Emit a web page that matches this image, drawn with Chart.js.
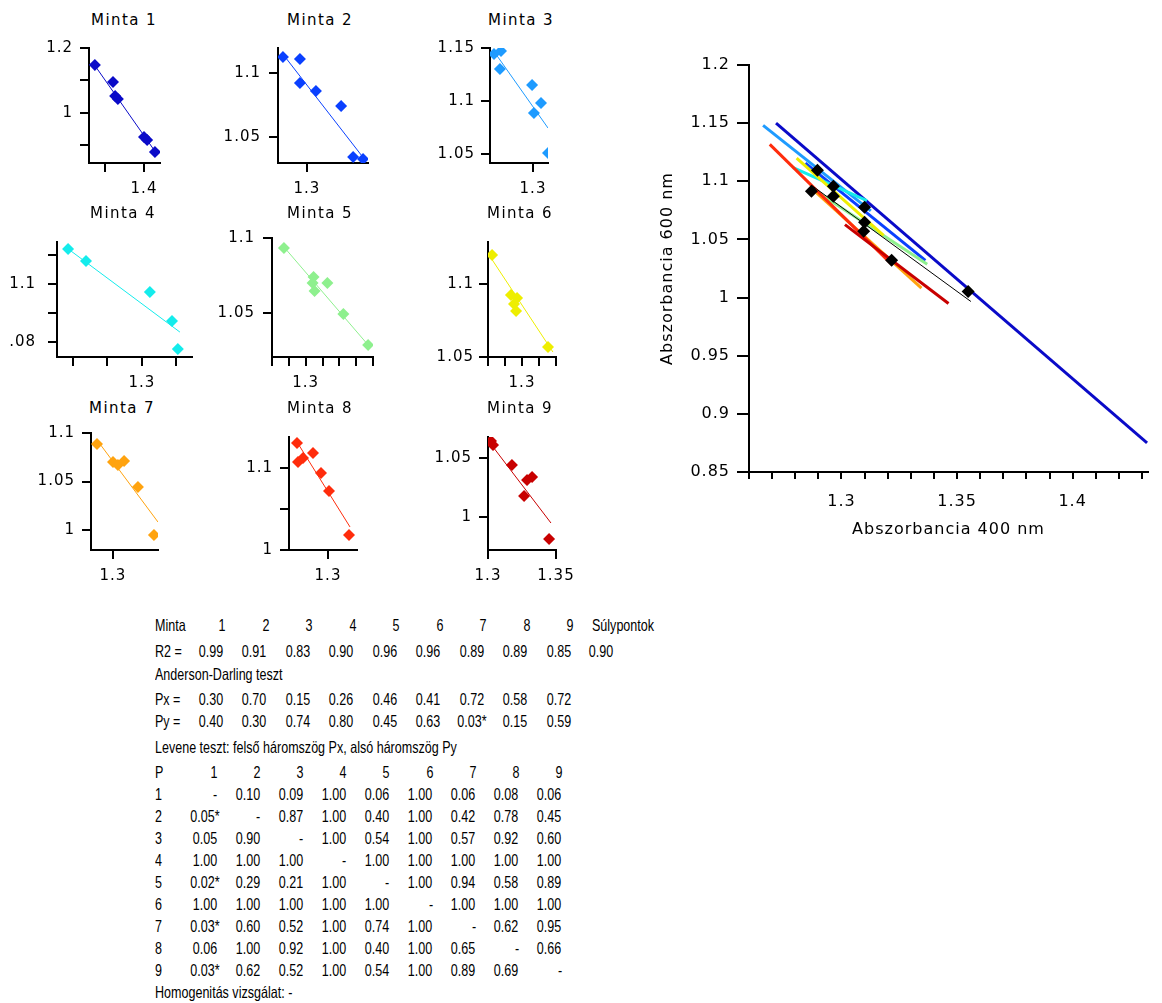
<!DOCTYPE html>
<html lang="hu">
<head>
<meta charset="UTF-8">
<title>Abszorbancia mintánként</title>
<script src="https://cdn.jsdelivr.net/npm/chart.js"></script>
<style>
  body { margin: 0; width: 1162px; height: 1003px; position: relative; overflow: hidden; background: #fff; }
  canvas { position: absolute; }
  .cim { position: absolute; font-family: 'DejaVu Sans', sans-serif; font-size: 15px; letter-spacing: 1.4px; line-height: 18px; white-space: nowrap; transform: translateX(-50%); color: #000; }
  .t { position: absolute; font-family: 'Liberation Sans', Arial, sans-serif; font-size: 16.5px; line-height: 16px; white-space: nowrap; color: #000; transform-origin: left center; }
</style>
</head>
<body>
<script>
// ---- adatok ----
const mintaNevek = ['Minta 1', 'Minta 2', 'Minta 3', 'Minta 4', 'Minta 5', 'Minta 6', 'Minta 7', 'Minta 8', 'Minta 9'];

const mintaX = [
  [1.274, 1.3205, 1.326, 1.333, 1.400, 1.408, 1.428],
  [1.285, 1.2956, 1.2956, 1.3056, 1.3213, 1.3288, 1.335],
  [1.267, 1.2729, 1.272, 1.2992, 1.3068, 1.3008, 1.3127],
  [1.2786, 1.2838, 1.3023, 1.3087, 1.3104],
  [1.2871, 1.3047, 1.3041, 1.3053, 1.3129, 1.3224, 1.3371],
  [1.2824, 1.2935, 1.2971, 1.2953, 1.2965, 1.3153],
  [1.2877, 1.300, 1.3038, 1.3085, 1.3192, 1.3315],
  [1.269, 1.270, 1.275, 1.285, 1.293, 1.301, 1.321],
  [1.3022, 1.3037, 1.3176, 1.3287, 1.3324, 1.3265, 1.3449]
];
const mintaY = [
  [1.148, 1.095, 1.052, 1.043, 0.926, 0.917, 0.880],
  [1.1125, 1.1109, 1.0922, 1.0859, 1.0742, 1.0344, 1.0328],
  [1.1443, 1.1472, 1.1302, 1.1151, 1.0981, 1.0887, 1.0509],
  [1.1121, 1.1079, 1.0972, 1.0872, 1.0776],
  [1.0933, 1.074, 1.070, 1.0647, 1.070, 1.0493, 1.0287],
  [1.1199, 1.0925, 1.0904, 1.0863, 1.0815, 1.0568],
  [1.0887, 1.0701, 1.067, 1.0711, 1.0443, 0.9948],
  [1.1305, 1.1073, 1.1122, 1.1183, 1.0939, 1.072, 1.0183],
  [1.0644, 1.061, 1.0441, 1.0314, 1.0339, 1.0178, 0.9814]
];

// illesztett egyenesek végpontjai
const illX = [[1.2717, 1.4322], [1.2844, 1.3363], [1.2661, 1.3127], [1.2791, 1.3110], [1.2871, 1.3371],
              [1.2806, 1.3182], [1.2877, 1.3346], [1.269, 1.322], [1.3015, 1.3463]];
const illY = [[1.150, 0.875], [1.1156, 1.032], [1.1481, 1.0745], [1.1117, 1.0834], [1.094, 1.0287],
              [1.1199, 1.0534], [1.0928, 1.0082], [1.1317, 1.0281], [1.0627, 0.9949]];

// súlypontok és a rajtuk átmenő egyenes
const sulyX = [1.3548, 1.310, 1.2896, 1.2965, 1.310, 1.2965, 1.3096, 1.287, 1.3217];
const sulyY = [1.0052, 1.0777, 1.1094, 1.0957, 1.0648, 1.0871, 1.0571, 1.0914, 1.032];
const sulyIllX = [1.287, 1.356];
const sulyIllY = [1.0966, 0.9966];

// osztások, feliratok
const xOsztas = [[1.3, 1.4], [1.3], [1.3], [1.28, 1.29, 1.3, 1.31], [1.28, 1.29, 1.3, 1.31, 1.32, 1.33, 1.34],
                 [1.28, 1.29, 1.3, 1.31, 1.32], [1.3], [1.3], [1.3, 1.35]];
const xFeliratok = [['1.4'], ['1.3'], ['1.3'], ['1.3'], ['1.3'], ['1.3'], ['1.3'], ['1.3'], ['1.3', '1.35']];
const yOsztas = [[0.9, 1, 1.1, 1.2], [1.05, 1.1], [1.05, 1.1, 1.15], [1.08, 1.09, 1.1, 1.11], [1.05, 1.1],
                 [1.05, 1.1], [1, 1.05, 1.1], [1, 1.05, 1.1], [1, 1.05]];
const yFeliratok = [['1', '1.2'], ['1.05', '1.1'], ['1.05', '1.1', '1.15'], ['1.08', '1.1'], ['1.05', '1.1'],
                    ['1.05', '1.1'], ['1', '1.05', '1.1'], ['1', '1.1'], ['1', '1.05']];

const nagyXOsztas = [1.26, 1.27, 1.28, 1.29, 1.3, 1.31, 1.32, 1.33, 1.34, 1.35, 1.36, 1.37, 1.38, 1.39, 1.4, 1.41, 1.42, 1.43];
const nagyXFeliratok = ['1.3', '1.35', '1.4'];
const nagyYOsztas = [0.85, 0.9, 0.95, 1, 1.05, 1.1, 1.15, 1.2];
const nagyYFeliratok = ['0.85', '0.9', '0.95', '1', '1.05', '1.1', '1.15', '1.2'];

// táblázat
const fejlec = ['1', '2', '3', '4', '5', '6', '7', '8', '9'];
const r2Ertekek = ['0.99', '0.91', '0.83', '0.90', '0.96', '0.96', '0.89', '0.89', '0.85', '0.90'];
const pxErtekek = ['0.30', '0.70', '0.15', '0.26', '0.46', '0.41', '0.72', '0.58', '0.72'];
const pyErtekek = ['0.40', '0.30', '0.74', '0.80', '0.45', '0.63', '0.03*', '0.15', '0.59'];
const levene = [
  ['-', '0.10', '0.09', '1.00', '0.06', '1.00', '0.06', '0.08', '0.06'],
  ['0.05*', '-', '0.87', '1.00', '0.40', '1.00', '0.42', '0.78', '0.45'],
  ['0.05', '0.90', '-', '1.00', '0.54', '1.00', '0.57', '0.92', '0.60'],
  ['1.00', '1.00', '1.00', '-', '1.00', '1.00', '1.00', '1.00', '1.00'],
  ['0.02*', '0.29', '0.21', '1.00', '-', '1.00', '0.94', '0.58', '0.89'],
  ['1.00', '1.00', '1.00', '1.00', '1.00', '-', '1.00', '1.00', '1.00'],
  ['0.03*', '0.60', '0.52', '1.00', '0.74', '1.00', '-', '0.62', '0.95'],
  ['0.06', '1.00', '0.92', '1.00', '0.40', '1.00', '0.65', '-', '0.66'],
  ['0.03*', '0.62', '0.52', '1.00', '0.54', '1.00', '0.89', '0.69', '-']
];

// ---- megjelenés ----
const szinek = ['#0a0ac8', '#0a40ff', '#1e9bff', '#14ecec', '#8ef08e', '#eeee00', '#ffa30f', '#ff2c0c', '#c80000'];

// kis grafikonok rajzterülete a lapon (px) és tengelyhatárai
const panelek = [
  { l: 89,  t: 48,  r: 160, b: 163, xMin: 1.259,  xMax: 1.441,  yMin: 0.846,  yMax: 1.2,    cx: 124, cy: 20,  yPad: 7 },
  { l: 278, t: 48,  r: 368, b: 163, xMin: 1.2819, xMax: 1.3381, yMin: 1.0297, yMax: 1.1195, cx: 320, cy: 20,  yPad: 8 },
  { l: 490, t: 48,  r: 548, b: 163, xMin: 1.2636, xMax: 1.3127, yMin: 1.0415, yMax: 1.15,   cx: 521, cy: 20,  yPad: 6 },
  { l: 57,  t: 242, r: 192, b: 357, xMin: 1.2754, xMax: 1.3145, yMin: 1.0748, yMax: 1.1145, cx: 123, cy: 213, yPad: 12, yw: 50 },
  { l: 272, t: 238, r: 373, b: 357, xMin: 1.28,   xMax: 1.34,   yMin: 1.0207, yMax: 1.1,    cx: 320, cy: 213, yPad: 8 },
  { l: 488, t: 242, r: 556, b: 357, xMin: 1.28,   xMax: 1.32,   yMin: 1.05,   yMax: 1.1288, cx: 520, cy: 213, yPad: 5 },
  { l: 91,  t: 433, r: 158, b: 550, xMin: 1.2831, xMax: 1.3346, yMin: 0.9794, yMax: 1.1,    cx: 122, cy: 408, yPad: 7 },
  { l: 289, t: 437, r: 357, b: 550, xMin: 1.261,  xMax: 1.329,  yMin: 1.0,    yMax: 1.1378, cx: 320, cy: 408, yPad: 7 },
  { l: 488, t: 437, r: 556, b: 550, xMin: 1.3,    xMax: 1.35,   yMin: 0.972,  yMax: 1.0678, cx: 520, cy: 408, yPad: 7 }
];

Chart.defaults.font.family = "'DejaVu Sans', sans-serif";
Chart.defaults.font.size = 15;
Chart.defaults.color = '#000';

// betűköz a vásznon
const betukoz = {
  id: 'betukoz',
  beforeUpdate(chart) { chart.ctx.letterSpacing = '1px'; },
  beforeDraw(chart) { chart.ctx.letterSpacing = '1px'; }
};

function vaszon(left, top, w, h) {
  const c = document.createElement('canvas');
  c.width = w; c.height = h;
  c.style.left = left + 'px'; c.style.top = top + 'px';
  c.style.width = w + 'px'; c.style.height = h + 'px';
  document.body.appendChild(c);
  return c;
}

function pontok(xs, ys) {
  return xs.map((x, k) => ({ x: x, y: ys[k] }));
}

function tengely(min, max, osztas, feliratok, o) {
  return {
    type: 'linear', min: min, max: max,
    afterBuildTicks: s => { s.ticks = osztas.map(v => ({ value: v })); },
    afterFit: s => {
      if (s.isHorizontal()) s.height = o.meret; else s.width = o.meret;
      s.paddingLeft = s.paddingRight = s.paddingTop = s.paddingBottom = 0;
    },
    ticks: {
      autoSkip: false, maxRotation: 0, minRotation: 0, color: '#000', padding: o.pad,
      font: { size: o.betu },
      callback: v => {
        const f = feliratok.find(t => Math.abs(Number(t) - v) < 1e-9);
        return f === undefined ? '' : f;
      }
    },
    grid: { drawOnChartArea: false, drawTicks: true, tickLength: o.tick, color: '#000', lineWidth: 2 },
    border: { display: true, color: '#000', width: 2 },
    title: o.cim ? { display: true, text: o.cim, color: '#000', font: { size: 16 }, padding: o.cimPad } : { display: false }
  };
}

// ---- kilenc kis grafikon ----
const PT = 14, PR = 20, XH = 42;
panelek.forEach((p, i) => {
  const yw = p.yw || 70;
  const c = vaszon(p.l - yw, p.t - PT, p.r - p.l + yw + PR, p.b - p.t + PT + XH);
  new Chart(c, {
    type: 'scatter',
    data: {
      datasets: [
        { data: pontok(mintaX[i], mintaY[i]), pointStyle: 'rectRot', pointRadius: 6, pointBorderWidth: 0,
          backgroundColor: szinek[i], borderColor: szinek[i], clip: 0, order: 0 },
        { data: pontok(illX[i], illY[i]), showLine: true, pointRadius: 0, borderColor: szinek[i],
          borderWidth: 1, clip: 0, order: 1 }
      ]
    },
    options: {
      responsive: false, animation: false, events: [],
      layout: { padding: { top: PT, right: PR, left: 0, bottom: 0 } },
      plugins: { legend: { display: false }, tooltip: { enabled: false } },
      scales: {
        x: tengely(p.xMin, p.xMax, xOsztas[i], xFeliratok[i], { meret: XH, pad: 8, betu: 15, tick: 9 }),
        y: tengely(p.yMin, p.yMax, yOsztas[i], yFeliratok[i], { meret: yw, pad: p.yPad, betu: 15, tick: 9 })
      }
    },
    plugins: [betukoz]
  });
  const d = document.createElement('div');
  d.className = 'cim';
  d.textContent = mintaNevek[i];
  d.style.left = p.cx + 'px';
  d.style.top = (p.cy - 9) + 'px';
  document.body.appendChild(d);
});

// ---- nagy grafikon ----
const nagyDatasets = [
  { data: pontok(sulyX, sulyY), pointStyle: 'rectRot', pointRadius: 6.5, pointBorderWidth: 0,
    backgroundColor: '#000', borderColor: '#000', order: 0 },
  { data: pontok(sulyIllX, sulyIllY), showLine: true, pointRadius: 0, borderColor: '#000', borderWidth: 1, order: 1 }
];
illX.forEach((xs, i) => {
  nagyDatasets.push({ data: pontok(xs, illY[i]), showLine: true, pointRadius: 0, borderColor: szinek[i],
    borderWidth: 3, order: 20 - i });
});
new Chart(vaszon(640, 45, 522, 515), {
  type: 'scatter',
  data: { datasets: nagyDatasets },
  options: {
    responsive: false, animation: false, events: [],
    layout: { padding: { top: 20, right: 14, left: 0, bottom: 0 } },
    plugins: { legend: { display: false }, tooltip: { enabled: false } },
    scales: {
      x: tengely(1.26, 1.4326, nagyXOsztas, nagyXFeliratok,
        { meret: 88, pad: 13, betu: 16, tick: 7, cim: 'Abszorbancia 400 nm', cimPad: { top: 0, bottom: 21 } }),
      y: tengely(0.85, 1.2, nagyYOsztas, nagyYFeliratok,
        { meret: 109, pad: 7, betu: 16, tick: 12, cim: 'Abszorbancia 600 nm', cimPad: { top: 18, bottom: 0 } })
    }
  },
  plugins: [betukoz]
});

// ---- táblázat ----
function irj(txt, x, y, kozep) {
  const d = document.createElement('div');
  d.className = 't';
  d.textContent = txt;
  d.style.left = x + 'px';
  d.style.top = (y - 8) + 'px';
  d.style.transform = kozep ? 'translateX(-50%) scaleX(0.76)' : 'scaleX(0.76)';
  if (kozep) d.style.transformOrigin = 'center center';
  document.body.appendChild(d);
}

const felsoKoz = 43.5, alsoKoz = 43.1;
irj('Minta', 155, 625);
fejlec.forEach((f, i) => irj(f, 222 + felsoKoz * i, 625, true));
irj('Súlypontok', 592, 625);

irj('R2 =', 155, 651);
r2Ertekek.forEach((v, i) => irj(v, i < 9 ? 210.5 + felsoKoz * i : 601, 651, true));

irj('Anderson-Darling teszt', 155, 674);
irj('Px =', 155, 699);
pxErtekek.forEach((v, i) => irj(v, 210.5 + felsoKoz * i, 699, true));
irj('Py =', 155, 721);
pyErtekek.forEach((v, i) => irj(v, 210.5 + felsoKoz * i, 721, true));

irj('Levene teszt: felső háromszög Px, alsó háromszög Py', 155, 747);
irj('P', 155, 772);
fejlec.forEach((f, i) => irj(f, 214 + alsoKoz * i, 772, true));
levene.forEach((sor, r) => {
  const y = 794 + 22 * r;
  irj(fejlec[r], 155, y);
  sor.forEach((v, i) => irj(v, (v === '-' ? 215 : 204.5) + alsoKoz * i, y, true));
});
irj('Homogenitás vizsgálat: -', 155, 992);
</script>
</body>
</html>
